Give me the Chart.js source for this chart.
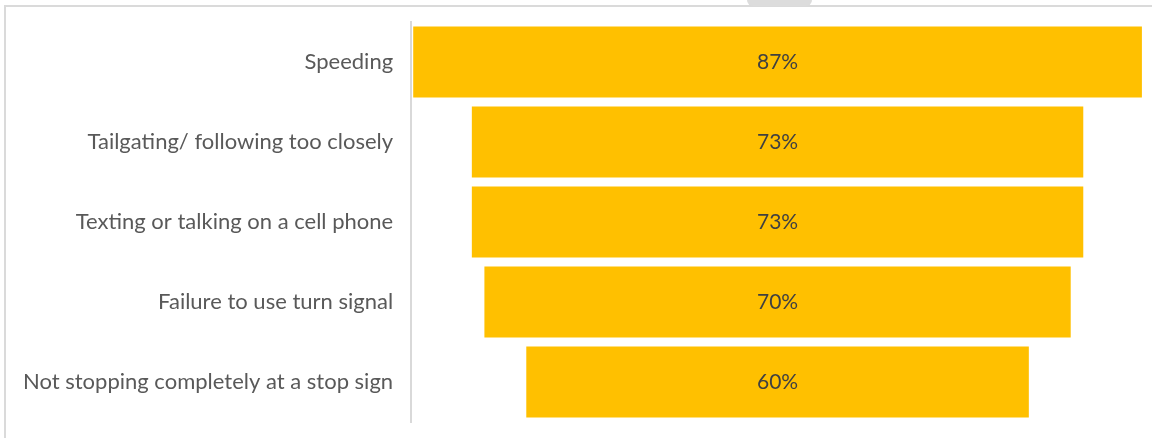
<!DOCTYPE html>
<html>
<head>
<meta charset="utf-8">
<script src="https://cdn.jsdelivr.net/npm/chart.js@4.4.1/dist/chart.umd.min.js"></script>
<style>
    html, body { margin: 0; padding: 0; background: #fff; }
    #wrap { position: relative; width: 1152px; height: 438px; overflow: hidden; }
    #frame { position: absolute; left: 4px; top: 5px; right: 0; bottom: 0; border-top: 2px solid #dadada; border-left: 2px solid #dadada; }
    #tab { position: absolute; left: 747px; top: 0; width: 65px; height: 6px; background: #dcdcdc; border-radius: 0 0 8px 8px; }
    canvas { position: absolute; left: 0; top: 0; }
</style>
</head>
<body>
<div id="wrap">
    <div id="frame"></div>
    <div id="tab"></div>
    <canvas id="funnelChart" width="1152" height="438"></canvas>
</div>
<script>
const categories = [
    'Speeding',
    'Tailgating/ following too closely',
    'Texting or talking on a cell phone',
    'Failure to use turn signal',
    'Not stopping completely at a stop sign'
];
const values = [87, 73, 73, 70, 60];

// funnel: every bar is centred on zero
const ranges = values.map(v => [-v / 2, v / 2]);

const funnelLabels = {
    id: 'funnelLabels',
    afterDatasetsDraw(chart) {
        const ctx = chart.ctx;
        const meta = chart.getDatasetMeta(0);
        ctx.save();
        ctx.font = '21px Lato';
        ctx.fillStyle = '#404040';
        ctx.textAlign = 'center';
        ctx.textBaseline = 'middle';
        meta.data.forEach((bar, i) => {
            ctx.fillText(values[i] + '%', (bar.x + bar.base) / 2, bar.y);
        });
        ctx.restore();
    }
};

new Chart(document.getElementById('funnelChart'), {
    type: 'bar',
    data: {
        labels: categories,
        datasets: [{
            data: ranges,
            backgroundColor: '#ffc000',
            borderWidth: 0,
            barPercentage: 0.89,
            categoryPercentage: 1
        }]
    },
    options: {
        indexAxis: 'y',
        responsive: false,
        animation: false,
        layout: {
            padding: { top: 22, bottom: 16, left: 5, right: 8 }
        },
        plugins: {
            legend: { display: false },
            tooltip: { enabled: false }
        },
        scales: {
            x: {
                display: false,
                min: -43.75,
                max: 43.75
            },
            y: {
                grid: { display: false, drawTicks: false },
                border: { display: true, color: '#d9d9d9', width: 2 },
                ticks: {
                    color: '#595959',
                    padding: 18,
                    font: { family: 'Lato', size: 22 }
                },
                afterFit(scale) {
                    // labels sit mid-category, no overhang to reserve
                    scale.paddingTop = 0;
                    scale.paddingBottom = 0;
                }
            }
        }
    },
    plugins: [funnelLabels]
});
</script>
</body>
</html>
